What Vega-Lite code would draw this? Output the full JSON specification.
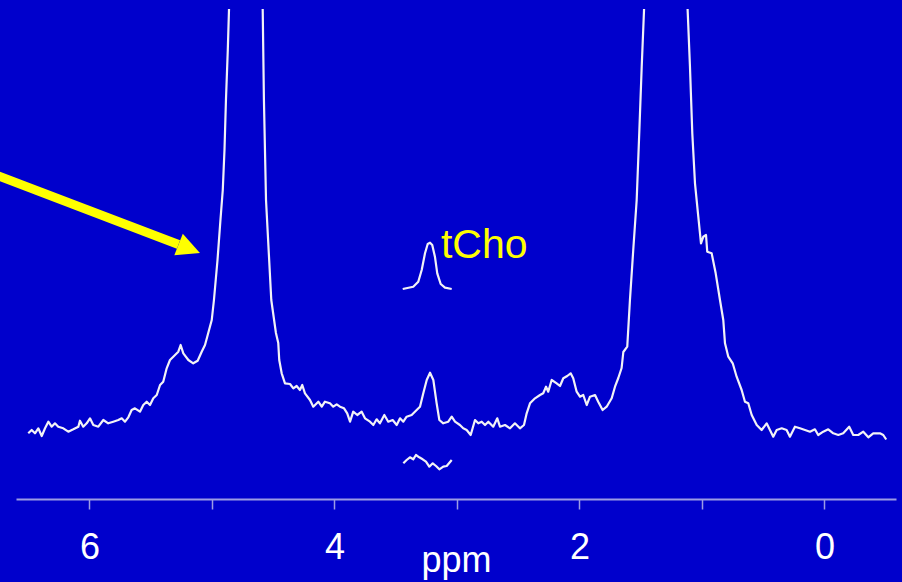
{
  "$schema": "https://vega.github.io/schema/vega-lite/v6.json",
  "width": 880,
  "height": 490,
  "autosize": {"type": "none"},
  "padding": {"left": 16, "right": 6, "top": 9, "bottom": 83},
  "background": "#0000cc",
  "config": {"view": {"stroke": null}},
  "datasets": {
    "spectrum": [
      {"ppm": 6.500, "intensity": 65.7, "series": "spectrum"},
      {"ppm": 6.472, "intensity": 69, "series": "spectrum"},
      {"ppm": 6.445, "intensity": 65.7, "series": "spectrum"},
      {"ppm": 6.418, "intensity": 70.7, "series": "spectrum"},
      {"ppm": 6.390, "intensity": 63, "series": "spectrum"},
      {"ppm": 6.363, "intensity": 70.7, "series": "spectrum"},
      {"ppm": 6.336, "intensity": 77.3, "series": "spectrum"},
      {"ppm": 6.309, "intensity": 72.3, "series": "spectrum"},
      {"ppm": 6.282, "intensity": 75.7, "series": "spectrum"},
      {"ppm": 6.255, "intensity": 72.3, "series": "spectrum"},
      {"ppm": 6.214, "intensity": 70.7, "series": "spectrum"},
      {"ppm": 6.173, "intensity": 67.3, "series": "spectrum"},
      {"ppm": 6.132, "intensity": 69.7, "series": "spectrum"},
      {"ppm": 6.091, "intensity": 72.3, "series": "spectrum"},
      {"ppm": 6.078, "intensity": 78.3, "series": "spectrum"},
      {"ppm": 6.051, "intensity": 72.3, "series": "spectrum"},
      {"ppm": 6.023, "intensity": 75.7, "series": "spectrum"},
      {"ppm": 5.996, "intensity": 80.7, "series": "spectrum"},
      {"ppm": 5.969, "intensity": 74, "series": "spectrum"},
      {"ppm": 5.928, "intensity": 72.3, "series": "spectrum"},
      {"ppm": 5.887, "intensity": 79, "series": "spectrum"},
      {"ppm": 5.847, "intensity": 75.7, "series": "spectrum"},
      {"ppm": 5.806, "intensity": 77.3, "series": "spectrum"},
      {"ppm": 5.765, "intensity": 79, "series": "spectrum"},
      {"ppm": 5.737, "intensity": 80.7, "series": "spectrum"},
      {"ppm": 5.710, "intensity": 77.3, "series": "spectrum"},
      {"ppm": 5.683, "intensity": 81.7, "series": "spectrum"},
      {"ppm": 5.656, "intensity": 89, "series": "spectrum"},
      {"ppm": 5.629, "intensity": 90.7, "series": "spectrum"},
      {"ppm": 5.588, "intensity": 87.3, "series": "spectrum"},
      {"ppm": 5.561, "intensity": 94, "series": "spectrum"},
      {"ppm": 5.533, "intensity": 97.3, "series": "spectrum"},
      {"ppm": 5.506, "intensity": 94, "series": "spectrum"},
      {"ppm": 5.479, "intensity": 100.7, "series": "spectrum"},
      {"ppm": 5.451, "intensity": 104, "series": "spectrum"},
      {"ppm": 5.424, "intensity": 114, "series": "spectrum"},
      {"ppm": 5.398, "intensity": 117.3, "series": "spectrum"},
      {"ppm": 5.370, "intensity": 130.7, "series": "spectrum"},
      {"ppm": 5.343, "intensity": 139, "series": "spectrum"},
      {"ppm": 5.316, "intensity": 142.3, "series": "spectrum"},
      {"ppm": 5.275, "intensity": 147.3, "series": "spectrum"},
      {"ppm": 5.256, "intensity": 154, "series": "spectrum"},
      {"ppm": 5.234, "intensity": 145.7, "series": "spectrum"},
      {"ppm": 5.193, "intensity": 139, "series": "spectrum"},
      {"ppm": 5.153, "intensity": 135.7, "series": "spectrum"},
      {"ppm": 5.117, "intensity": 138.3, "series": "spectrum"},
      {"ppm": 5.084, "intensity": 147.3, "series": "spectrum"},
      {"ppm": 5.057, "intensity": 154, "series": "spectrum"},
      {"ppm": 5.035, "intensity": 164, "series": "spectrum"},
      {"ppm": 5.002, "intensity": 179, "series": "spectrum"},
      {"ppm": 4.984, "intensity": 199, "series": "spectrum"},
      {"ppm": 4.955, "intensity": 239, "series": "spectrum"},
      {"ppm": 4.931, "intensity": 279, "series": "spectrum"},
      {"ppm": 4.912, "intensity": 309, "series": "spectrum"},
      {"ppm": 4.898, "intensity": 349, "series": "spectrum"},
      {"ppm": 4.886, "intensity": 399, "series": "spectrum"},
      {"ppm": 4.871, "intensity": 449, "series": "spectrum"},
      {"ppm": 4.861, "intensity": 490, "series": "spectrum"},
      {"ppm": 4.849, "intensity": 539, "series": "spectrum"},
      {"ppm": 4.720, "intensity": 3000, "series": "spectrum"},
      {"ppm": 4.596, "intensity": 539, "series": "spectrum"},
      {"ppm": 4.586, "intensity": 489.7, "series": "spectrum"},
      {"ppm": 4.576, "intensity": 399, "series": "spectrum"},
      {"ppm": 4.559, "intensity": 299, "series": "spectrum"},
      {"ppm": 4.516, "intensity": 199, "series": "spectrum"},
      {"ppm": 4.478, "intensity": 166, "series": "spectrum"},
      {"ppm": 4.459, "intensity": 156, "series": "spectrum"},
      {"ppm": 4.451, "intensity": 139, "series": "spectrum"},
      {"ppm": 4.431, "intensity": 125.7, "series": "spectrum"},
      {"ppm": 4.404, "intensity": 115.7, "series": "spectrum"},
      {"ppm": 4.363, "intensity": 115, "series": "spectrum"},
      {"ppm": 4.336, "intensity": 110.7, "series": "spectrum"},
      {"ppm": 4.309, "intensity": 113, "series": "spectrum"},
      {"ppm": 4.282, "intensity": 109, "series": "spectrum"},
      {"ppm": 4.263, "intensity": 114, "series": "spectrum"},
      {"ppm": 4.241, "intensity": 105.7, "series": "spectrum"},
      {"ppm": 4.200, "intensity": 99, "series": "spectrum"},
      {"ppm": 4.173, "intensity": 92.3, "series": "spectrum"},
      {"ppm": 4.132, "intensity": 97.3, "series": "spectrum"},
      {"ppm": 4.104, "intensity": 92.3, "series": "spectrum"},
      {"ppm": 4.078, "intensity": 97.3, "series": "spectrum"},
      {"ppm": 4.037, "intensity": 95.7, "series": "spectrum"},
      {"ppm": 4.010, "intensity": 92.3, "series": "spectrum"},
      {"ppm": 3.982, "intensity": 94.7, "series": "spectrum"},
      {"ppm": 3.955, "intensity": 92.3, "series": "spectrum"},
      {"ppm": 3.922, "intensity": 90.7, "series": "spectrum"},
      {"ppm": 3.896, "intensity": 85.7, "series": "spectrum"},
      {"ppm": 3.873, "intensity": 77.3, "series": "spectrum"},
      {"ppm": 3.847, "intensity": 87.3, "series": "spectrum"},
      {"ppm": 3.814, "intensity": 84, "series": "spectrum"},
      {"ppm": 3.778, "intensity": 87.3, "series": "spectrum"},
      {"ppm": 3.751, "intensity": 80.7, "series": "spectrum"},
      {"ppm": 3.710, "intensity": 77.3, "series": "spectrum"},
      {"ppm": 3.683, "intensity": 74, "series": "spectrum"},
      {"ppm": 3.656, "intensity": 79.7, "series": "spectrum"},
      {"ppm": 3.629, "intensity": 75.7, "series": "spectrum"},
      {"ppm": 3.593, "intensity": 84, "series": "spectrum"},
      {"ppm": 3.561, "intensity": 77.3, "series": "spectrum"},
      {"ppm": 3.525, "intensity": 79, "series": "spectrum"},
      {"ppm": 3.492, "intensity": 74, "series": "spectrum"},
      {"ppm": 3.465, "intensity": 80.7, "series": "spectrum"},
      {"ppm": 3.438, "intensity": 77.3, "series": "spectrum"},
      {"ppm": 3.411, "intensity": 82.3, "series": "spectrum"},
      {"ppm": 3.370, "intensity": 84, "series": "spectrum"},
      {"ppm": 3.329, "intensity": 89, "series": "spectrum"},
      {"ppm": 3.302, "intensity": 92.3, "series": "spectrum"},
      {"ppm": 3.275, "intensity": 105.7, "series": "spectrum"},
      {"ppm": 3.247, "intensity": 119, "series": "spectrum"},
      {"ppm": 3.220, "intensity": 126.3, "series": "spectrum"},
      {"ppm": 3.193, "intensity": 119, "series": "spectrum"},
      {"ppm": 3.166, "intensity": 95.7, "series": "spectrum"},
      {"ppm": 3.144, "intensity": 79, "series": "spectrum"},
      {"ppm": 3.112, "intensity": 75.7, "series": "spectrum"},
      {"ppm": 3.071, "intensity": 77.3, "series": "spectrum"},
      {"ppm": 3.043, "intensity": 82.3, "series": "spectrum"},
      {"ppm": 3.016, "intensity": 77.3, "series": "spectrum"},
      {"ppm": 2.976, "intensity": 74, "series": "spectrum"},
      {"ppm": 2.949, "intensity": 70.7, "series": "spectrum"},
      {"ppm": 2.921, "intensity": 69, "series": "spectrum"},
      {"ppm": 2.888, "intensity": 64, "series": "spectrum"},
      {"ppm": 2.853, "intensity": 79, "series": "spectrum"},
      {"ppm": 2.826, "intensity": 75.7, "series": "spectrum"},
      {"ppm": 2.798, "intensity": 77.3, "series": "spectrum"},
      {"ppm": 2.771, "intensity": 74, "series": "spectrum"},
      {"ppm": 2.744, "intensity": 77.3, "series": "spectrum"},
      {"ppm": 2.704, "intensity": 72.3, "series": "spectrum"},
      {"ppm": 2.671, "intensity": 80.7, "series": "spectrum"},
      {"ppm": 2.649, "intensity": 72.3, "series": "spectrum"},
      {"ppm": 2.608, "intensity": 74, "series": "spectrum"},
      {"ppm": 2.567, "intensity": 70.7, "series": "spectrum"},
      {"ppm": 2.527, "intensity": 75.7, "series": "spectrum"},
      {"ppm": 2.486, "intensity": 70.7, "series": "spectrum"},
      {"ppm": 2.453, "intensity": 74, "series": "spectrum"},
      {"ppm": 2.431, "intensity": 85.7, "series": "spectrum"},
      {"ppm": 2.404, "intensity": 95.7, "series": "spectrum"},
      {"ppm": 2.363, "intensity": 100.7, "series": "spectrum"},
      {"ppm": 2.322, "intensity": 104, "series": "spectrum"},
      {"ppm": 2.296, "intensity": 105.7, "series": "spectrum"},
      {"ppm": 2.273, "intensity": 112.3, "series": "spectrum"},
      {"ppm": 2.255, "intensity": 107.3, "series": "spectrum"},
      {"ppm": 2.227, "intensity": 119, "series": "spectrum"},
      {"ppm": 2.186, "intensity": 115.7, "series": "spectrum"},
      {"ppm": 2.159, "intensity": 113, "series": "spectrum"},
      {"ppm": 2.132, "intensity": 120.7, "series": "spectrum"},
      {"ppm": 2.100, "intensity": 123, "series": "spectrum"},
      {"ppm": 2.072, "intensity": 125.7, "series": "spectrum"},
      {"ppm": 2.051, "intensity": 120.7, "series": "spectrum"},
      {"ppm": 2.023, "intensity": 107.3, "series": "spectrum"},
      {"ppm": 1.996, "intensity": 102.3, "series": "spectrum"},
      {"ppm": 1.969, "intensity": 104, "series": "spectrum"},
      {"ppm": 1.941, "intensity": 94, "series": "spectrum"},
      {"ppm": 1.914, "intensity": 102.3, "series": "spectrum"},
      {"ppm": 1.873, "intensity": 104, "series": "spectrum"},
      {"ppm": 1.847, "intensity": 97.3, "series": "spectrum"},
      {"ppm": 1.811, "intensity": 89, "series": "spectrum"},
      {"ppm": 1.778, "intensity": 92.3, "series": "spectrum"},
      {"ppm": 1.737, "intensity": 100.7, "series": "spectrum"},
      {"ppm": 1.710, "intensity": 112.3, "series": "spectrum"},
      {"ppm": 1.683, "intensity": 121, "series": "spectrum"},
      {"ppm": 1.656, "intensity": 131, "series": "spectrum"},
      {"ppm": 1.642, "intensity": 147, "series": "spectrum"},
      {"ppm": 1.610, "intensity": 152.3, "series": "spectrum"},
      {"ppm": 1.588, "intensity": 199, "series": "spectrum"},
      {"ppm": 1.561, "intensity": 249, "series": "spectrum"},
      {"ppm": 1.533, "intensity": 299, "series": "spectrum"},
      {"ppm": 1.512, "intensity": 365.7, "series": "spectrum"},
      {"ppm": 1.492, "intensity": 432.3, "series": "spectrum"},
      {"ppm": 1.473, "intensity": 489, "series": "spectrum"},
      {"ppm": 1.465, "intensity": 539, "series": "spectrum"},
      {"ppm": 1.300, "intensity": 3000, "series": "spectrum"},
      {"ppm": 1.125, "intensity": 539, "series": "spectrum"},
      {"ppm": 1.117, "intensity": 489, "series": "spectrum"},
      {"ppm": 1.098, "intensity": 432.3, "series": "spectrum"},
      {"ppm": 1.079, "intensity": 365.7, "series": "spectrum"},
      {"ppm": 1.057, "intensity": 315.7, "series": "spectrum"},
      {"ppm": 1.030, "intensity": 282.3, "series": "spectrum"},
      {"ppm": 1.008, "intensity": 255.7, "series": "spectrum"},
      {"ppm": 0.989, "intensity": 262.3, "series": "spectrum"},
      {"ppm": 0.967, "intensity": 264, "series": "spectrum"},
      {"ppm": 0.957, "intensity": 247.3, "series": "spectrum"},
      {"ppm": 0.921, "intensity": 245.7, "series": "spectrum"},
      {"ppm": 0.888, "intensity": 225.7, "series": "spectrum"},
      {"ppm": 0.853, "intensity": 199, "series": "spectrum"},
      {"ppm": 0.826, "intensity": 179, "series": "spectrum"},
      {"ppm": 0.812, "intensity": 155.7, "series": "spectrum"},
      {"ppm": 0.785, "intensity": 142.3, "series": "spectrum"},
      {"ppm": 0.749, "intensity": 135.7, "series": "spectrum"},
      {"ppm": 0.717, "intensity": 122.3, "series": "spectrum"},
      {"ppm": 0.676, "intensity": 109, "series": "spectrum"},
      {"ppm": 0.649, "intensity": 97.3, "series": "spectrum"},
      {"ppm": 0.622, "intensity": 95.7, "series": "spectrum"},
      {"ppm": 0.594, "intensity": 84, "series": "spectrum"},
      {"ppm": 0.553, "intensity": 74, "series": "spectrum"},
      {"ppm": 0.513, "intensity": 69, "series": "spectrum"},
      {"ppm": 0.472, "intensity": 75.7, "series": "spectrum"},
      {"ppm": 0.445, "intensity": 69, "series": "spectrum"},
      {"ppm": 0.418, "intensity": 62.3, "series": "spectrum"},
      {"ppm": 0.390, "intensity": 69, "series": "spectrum"},
      {"ppm": 0.349, "intensity": 70.7, "series": "spectrum"},
      {"ppm": 0.309, "intensity": 69, "series": "spectrum"},
      {"ppm": 0.282, "intensity": 62.3, "series": "spectrum"},
      {"ppm": 0.241, "intensity": 72.3, "series": "spectrum"},
      {"ppm": 0.200, "intensity": 70.7, "series": "spectrum"},
      {"ppm": 0.159, "intensity": 69, "series": "spectrum"},
      {"ppm": 0.118, "intensity": 67.3, "series": "spectrum"},
      {"ppm": 0.078, "intensity": 69.7, "series": "spectrum"},
      {"ppm": 0.051, "intensity": 64, "series": "spectrum"},
      {"ppm": 0.010, "intensity": 67.3, "series": "spectrum"},
      {"ppm": -0.031, "intensity": 69.7, "series": "spectrum"},
      {"ppm": -0.072, "intensity": 65.7, "series": "spectrum"},
      {"ppm": -0.113, "intensity": 64, "series": "spectrum"},
      {"ppm": -0.153, "intensity": 65.7, "series": "spectrum"},
      {"ppm": -0.202, "intensity": 72.3, "series": "spectrum"},
      {"ppm": -0.235, "intensity": 64, "series": "spectrum"},
      {"ppm": -0.276, "intensity": 64, "series": "spectrum"},
      {"ppm": -0.317, "intensity": 67.3, "series": "spectrum"},
      {"ppm": -0.358, "intensity": 61.7, "series": "spectrum"},
      {"ppm": -0.398, "intensity": 65.7, "series": "spectrum"},
      {"ppm": -0.453, "intensity": 65.7, "series": "spectrum"},
      {"ppm": -0.480, "intensity": 64, "series": "spectrum"},
      {"ppm": -0.504, "intensity": 59.5, "series": "spectrum"},
      {"ppm": 3.443, "intensity": 210, "series": "fit"},
      {"ppm": 3.357, "intensity": 212.3, "series": "fit"},
      {"ppm": 3.316, "intensity": 217.3, "series": "fit"},
      {"ppm": 3.288, "intensity": 229, "series": "fit"},
      {"ppm": 3.261, "intensity": 245.7, "series": "fit"},
      {"ppm": 3.239, "intensity": 255, "series": "fit"},
      {"ppm": 3.220, "intensity": 256.3, "series": "fit"},
      {"ppm": 3.202, "intensity": 254, "series": "fit"},
      {"ppm": 3.180, "intensity": 242.3, "series": "fit"},
      {"ppm": 3.161, "intensity": 225.7, "series": "fit"},
      {"ppm": 3.133, "intensity": 215, "series": "fit"},
      {"ppm": 3.098, "intensity": 211.3, "series": "fit"},
      {"ppm": 3.043, "intensity": 210, "series": "fit"},
      {"ppm": 3.438, "intensity": 35.7, "series": "residual"},
      {"ppm": 3.411, "intensity": 39, "series": "residual"},
      {"ppm": 3.384, "intensity": 41.7, "series": "residual"},
      {"ppm": 3.357, "intensity": 39.7, "series": "residual"},
      {"ppm": 3.335, "intensity": 44, "series": "residual"},
      {"ppm": 3.308, "intensity": 41.7, "series": "residual"},
      {"ppm": 3.280, "intensity": 39.7, "series": "residual"},
      {"ppm": 3.253, "intensity": 37.3, "series": "residual"},
      {"ppm": 3.226, "intensity": 32.3, "series": "residual"},
      {"ppm": 3.198, "intensity": 35.7, "series": "residual"},
      {"ppm": 3.171, "intensity": 33, "series": "residual"},
      {"ppm": 3.144, "intensity": 29.7, "series": "residual"},
      {"ppm": 3.112, "intensity": 32.3, "series": "residual"},
      {"ppm": 3.084, "intensity": 33, "series": "residual"},
      {"ppm": 3.043, "intensity": 39, "series": "residual"}
    ],
    "arrowShaft": [
      {"ppm": 6.771, "intensity": 324.4},
      {"ppm": 5.2735, "intensity": 254.5}
    ],
    "arrowHead": [
      {"ppm": 5.1857, "intensity": 250.25}
    ],
    "labels": [
      {"ppm": 3.1306, "intensity": 241.5, "text": "tCho"}
    ]
  },
  "layer": [
    {
      "data": {"name": "spectrum"},
      "mark": {"type": "line", "color": "#f2f2f6", "strokeWidth": 2.2, "clip": true, "interpolate": "linear", "strokeJoin": "round"},
      "encoding": {
        "x": {
          "field": "ppm",
          "type": "quantitative",
          "scale": {"domain": [-0.584, 6.6], "reverse": true, "nice": false, "zero": false},
          "axis": {
            "orient": "bottom",
            "values": [0, 1, 2, 3, 4, 5, 6],
            "format": "d",
            "labelExpr": "datum.value % 2 == 0 ? datum.label : ''",
            "grid": false,
            "domainColor": "#9c9ce4",
            "domainWidth": 2,
            "tickColor": "#9c9ce4",
            "tickWidth": 1.5,
            "tickSize": 10,
            "labelColor": "#ffffff",
            "labelFont": "Liberation Sans",
            "labelFontSize": 36,
            "labelBaseline": "alphabetic",
            "labelPadding": 49,
            "labelFlush": false,
            "labelOverlap": false,
            "title": "ppm",
            "titleColor": "#ffffff",
            "titleFont": "Liberation Sans",
            "titleFontSize": 36,
            "titleFontWeight": "normal",
            "titleBaseline": "alphabetic",
            "titleY": 72.5
          }
        },
        "y": {
          "field": "intensity",
          "type": "quantitative",
          "scale": {"domain": [0, 490], "nice": false, "zero": false},
          "axis": null
        },
        "detail": {"field": "series"}
      }
    },
    {
      "data": {"name": "arrowShaft"},
      "mark": {"type": "line", "color": "#ffff00", "strokeWidth": 9, "strokeCap": "butt"},
      "encoding": {
        "x": {"field": "ppm", "type": "quantitative"},
        "y": {"field": "intensity", "type": "quantitative"}
      }
    },
    {
      "data": {"name": "arrowHead"},
      "mark": {"type": "point", "shape": "M-1,-1L1,0L-1,1Z", "filled": true, "color": "#ffff00", "opacity": 1, "size": 529, "angle": 21.6, "strokeWidth": 0},
      "encoding": {
        "x": {"field": "ppm", "type": "quantitative"},
        "y": {"field": "intensity", "type": "quantitative"}
      }
    },
    {
      "data": {"name": "labels"},
      "mark": {"type": "text", "color": "#ffff00", "font": "Liberation Sans", "fontSize": 41, "align": "left", "baseline": "alphabetic"},
      "encoding": {
        "x": {"field": "ppm", "type": "quantitative"},
        "y": {"field": "intensity", "type": "quantitative"},
        "text": {"field": "text"}
      }
    }
  ]
}
